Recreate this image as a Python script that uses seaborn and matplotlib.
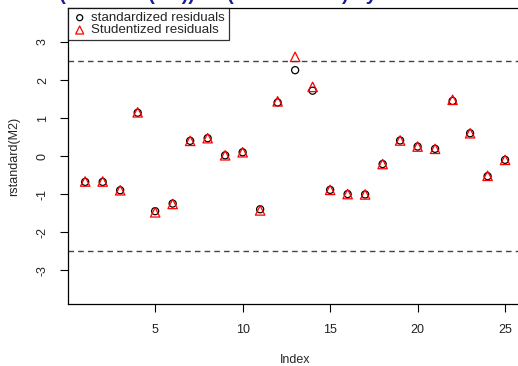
import matplotlib
matplotlib.use("Agg")
import matplotlib.pyplot as plt
import seaborn as sns

# residuals
index = list(range(1, 26))
std_resid = [-0.68, -0.68, -0.90, 1.14, -1.45, -1.25, 0.40, 0.47, 0.02, 0.10,
             -1.40, 1.41, 2.26, 1.72, -0.89, -1.00, -1.01, -0.21, 0.41, 0.25,
             0.19, 1.45, 0.60, -0.53, -0.10]
stud_resid = [-0.67, -0.67, -0.90, 1.15, -1.48, -1.26, 0.40, 0.47, 0.02, 0.10,
              -1.43, 1.44, 2.61, 1.82, -0.89, -1.00, -1.01, -0.21, 0.41, 0.25,
              0.19, 1.48, 0.60, -0.52, -0.10]
cutoff = 2.5
x_ticks = [5, 10, 15, 20, 25]
y_ticks = [-3, -2, -1, 0, 1, 2, 3]

sns.set_theme(style="ticks")
plt.rcParams['font.family'] = ['Liberation Sans', 'DejaVu Sans']

fig = plt.figure(figsize=(5.18, 3.66), dpi=100)
ax = fig.add_axes([0.132, 0.1686, 0.8755, 0.810])

sns.scatterplot(x=index, y=std_resid, marker='o', s=26, facecolor='none',
                edgecolor='black', linewidth=0.9, ax=ax,
                label='standardized residuals')
sns.scatterplot(x=index, y=stud_resid, marker='^', s=46, facecolor='none',
                edgecolor='red', linewidth=0.9, ax=ax,
                label='Studentized residuals')

ax.axhline(cutoff, color='#444444', ls=(0, (4, 3)), lw=1)
ax.axhline(-cutoff, color='#444444', ls=(0, (4, 3)), lw=1)

ax.set_xlim(0.04, 25.96)
ax.set_ylim(-3.9, 3.9)
ax.set_xticks(x_ticks)
ax.set_yticks(y_ticks)
ax.set_yticklabels([str(t) for t in y_ticks], rotation=90, va='center')
ax.tick_params(axis='both', labelsize=9, length=6, width=0.8, pad=8,
               color='black', labelcolor='#222222')
for s in ax.spines.values():
    s.set_color('black')
    s.set_linewidth(0.9)

ax.set_xlabel('Index', fontsize=9, labelpad=13)
ax.set_ylabel('rstandard(M2)', fontsize=9, labelpad=12)

leg = ax.legend(loc='upper left', fontsize=9.6, frameon=True, fancybox=False,
                edgecolor='black', borderaxespad=0, handletextpad=0.3,
                labelspacing=0.0, borderpad=0.3, handlelength=1.1,
                markerscale=0.85)
leg.get_frame().set_linewidth(0.9)

# title sits almost entirely above the visible canvas, as in the reference
fig.text(0.5, 1.0, 'Residuals (standard(M2)) vs (studentized) by Index rstudent(M2)',
         color='#1a1aa0', fontsize=14, fontweight='bold', ha='center', va='baseline')

fig.savefig('out.png', dpi=100)
